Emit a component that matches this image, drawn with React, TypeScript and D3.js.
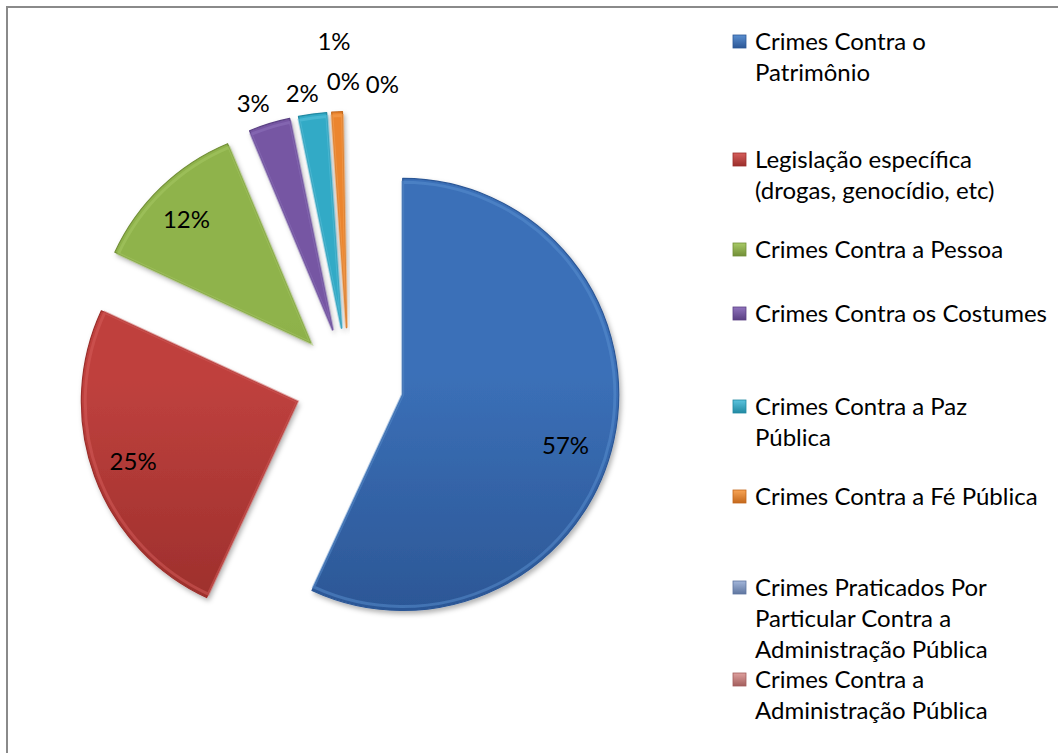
import React from "react";
import * as d3 from "d3";

const categories = [
  "Crimes Contra o Patrimônio",
  "Legislação específica (drogas, genocídio, etc)",
  "Crimes Contra a Pessoa",
  "Crimes Contra os Costumes",
  "Crimes Contra a Paz Pública",
  "Crimes Contra a Fé Pública",
  "Crimes Praticados Por Particular Contra a Administração Pública",
  "Crimes Contra a Administração Pública",
];
const values = [56.9, 25.0, 11.8, 3.1, 2.1, 0.8, 0, 0];
const valueLabels = ["57%", "25%", "12%", "3%", "2%", "1%", "0%", "0%"];
const legendLines = [
  ["Crimes Contra o", "Patrimônio"],
  ["Legislação específica", "(drogas, genocídio, etc)"],
  ["Crimes Contra a Pessoa"],
  ["Crimes Contra os Costumes"],
  ["Crimes Contra a Paz", "Pública"],
  ["Crimes Contra a Fé Pública"],
  ["Crimes Praticados Por", "Particular Contra a", "Administração Pública"],
  ["Crimes Contra a", "Administração Pública"],
];

const colors = ["#3b70b8", "#bf413e", "#8fb34b", "#7656a3", "#33aac6", "#eb852d", "#8298c4", "#c8817f"];
const darkColors = ["#2c5796", "#9b2e2b", "#728f37", "#5a4083", "#2189a2", "#c4681c", "#5f76a0", "#a35e5c"];
const lightColors = ["#5a8fd0", "#d65e5b", "#a8ca66", "#9073bd", "#5cc4de", "#f8a455", "#a3b6da", "#dea09e"];

const FONT = "Lato, 'Open Sans', sans-serif";

export default function App() {
  const W = 1058, H = 753;
  const cx = 349, cy = 382.6, R = 216, explode = 55;
  const total = d3.sum(values);
  const pie = d3.pie<number>().sort(null).value((d) => d).startAngle(0).endAngle((2 * Math.PI * total) / 100);
  const arcs = pie(values);
  const arc = d3.arc<d3.PieArcDatum<number>>().innerRadius(0).outerRadius(R);

  const dir = (a: number) => [Math.sin(a), -Math.cos(a)];

  // label placement tweaks: [extra radial distance, dx, dy]
  const labelNudge: [number, number, number][] = [
    [0, -8, 14],
    [0, 0, 0],
    [0, -3, 3],
    [0, -9, 3],
    [0, -7, 3],
    [46, 0, 0],
    [6, 0, 0],
    [6, 39, 3],
  ];

  const legendX = 733, textX = 755;
  const legendY = [42, 160, 250, 314, 407, 497, 588, 680];
  const lineH = 31;

  return (
    <svg width={W} height={H} style={{ position: "absolute", left: 0, top: 0, background: "#fff" }}>
      <defs>
        {colors.map((c, i) => (
          <linearGradient key={i} id={`g${i}`} gradientUnits="userSpaceOnUse" x1="0" y1={-R} x2="0" y2={R}>
            <stop offset="0" stopColor={c} />
            <stop offset="0.45" stopColor={c} />
            <stop offset="1" stopColor={darkColors[i]} />
          </linearGradient>
        ))}
        {colors.map((c, i) => (
          <linearGradient key={"m" + i} id={`m${i}`} x1="0" y1="0" x2="0" y2="1">
            <stop offset="0" stopColor={lightColors[i]} />
            <stop offset="1" stopColor={darkColors[i]} />
          </linearGradient>
        ))}
        <filter id="shadow" x="-20%" y="-20%" width="140%" height="140%">
          <feDropShadow dx="2" dy="3" stdDeviation="2.5" floodColor="#000" floodOpacity="0.3" />
        </filter>
      </defs>
      <rect x={7} y={7} width={W + 10} height={H + 10} fill="#fff" stroke="#8a8a8a" strokeWidth={2} />

      {arcs.map((a, i) => {
        if (a.endAngle - a.startAngle <= 0) return null;
        const mid = (a.startAngle + a.endAngle) / 2;
        const [ux, uy] = dir(mid);
        const ox = cx + ux * explode, oy = cy + uy * explode;
        const d = arc(a) || "";
        return (
          <g key={i} transform={`translate(${ox},${oy})`}>
            <path d={d} fill={`url(#g${i})`} stroke={darkColors[i]} strokeWidth={1.2} strokeLinejoin="round" filter="url(#shadow)" />
            <path d={d} fill="none" stroke={lightColors[i]} strokeOpacity={0.5} strokeWidth={3} transform="scale(0.982)" />
          </g>
        );
      })}

      {arcs.map((a, i) => {
        const mid = (a.startAngle + a.endAngle) / 2;
        const [ux, uy] = dir(mid);
        const big = values[i] >= 10;
        const dist = big ? explode + 0.81 * R : explode + R + 24 + labelNudge[i][0];
        const x = cx + ux * dist + labelNudge[i][1];
        const y = cy + uy * dist + labelNudge[i][2];
        return (
          <text key={"l" + i} x={x} y={y} textAnchor="middle" dy="0.35em" fontFamily={FONT} fontSize={24} fill="#000">
            {valueLabels[i]}
          </text>
        );
      })}

      {categories.map((c, i) => (
        <g key={"lg" + i}>
          <rect x={legendX} y={legendY[i] - 7} width={13} height={13} fill={`url(#m${i})`} stroke={darkColors[i]} strokeWidth={0.8} />
          <text fontFamily={FONT} fontSize={24} fill="#000">
            {legendLines[i].map((ln, j) => (
              <tspan key={j} x={textX} y={legendY[i] + j * lineH} dy="0.35em">
                {ln}
              </tspan>
            ))}
          </text>
        </g>
      ))}
    </svg>
  );
}
